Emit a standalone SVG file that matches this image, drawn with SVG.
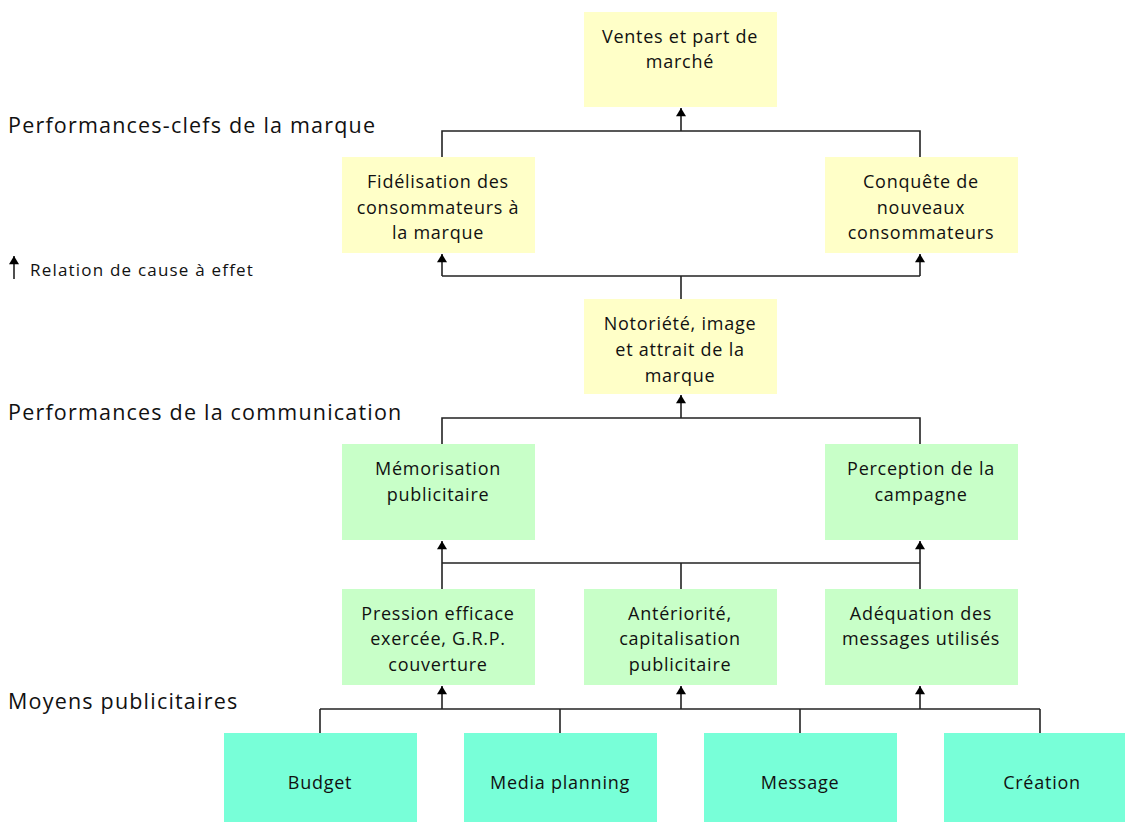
<svg xmlns="http://www.w3.org/2000/svg" width="1125" height="822" viewBox="0 0 1125 822">
<defs>
<marker id="ah" viewBox="0 0 10 12" refX="10" refY="6" markerWidth="12" markerHeight="10" markerUnits="userSpaceOnUse" orient="auto">
<path d="M0,0 L10,6 L0,12 z" fill="#000"/>
</marker>
</defs>
<style>
text{font-family:"Open Sans","Noto Sans",sans-serif;fill:#111}
.t{font-size:18px;letter-spacing:0.75px;text-anchor:middle}
.h{font-size:21.5px;letter-spacing:1.2px}
.y{fill:#FFFFC8}
.g{fill:#C8FFC8}
.c{fill:#78FFD8}
.ln{stroke:#222;stroke-width:1.6;fill:none}
.ar{stroke:#222;stroke-width:1.6;fill:none;marker-end:url(#ah)}
</style>
<rect width="1125" height="822" fill="#fff"/>
<g id="headers">
<text class="h" x="8" y="133">Performances-clefs de la marque</text>
<text class="h" x="8" y="420">Performances de la communication</text>
<text class="h" x="8" y="709">Moyens publicitaires</text>
</g>
<g id="legend">
<line class="ar" x1="14" y1="279" x2="14" y2="256"/>
<text x="30" y="276" style="font-size:17px;letter-spacing:1.2px">Relation de cause à effet</text>
</g>
<g id="connectors">
<polyline class="ln" points="442,157 442,131 920,131 920,157"/>
<line class="ar" x1="681" y1="131" x2="681" y2="108"/>
<polyline class="ln" points="681,299 681,276"/>
<line class="ln" x1="442" y1="276" x2="920" y2="276"/>
<line class="ar" x1="442" y1="276" x2="442" y2="254"/>
<line class="ar" x1="920" y1="276" x2="920" y2="254"/>
<polyline class="ln" points="442,444 442,418 920,418 920,444"/>
<line class="ar" x1="681" y1="418" x2="681" y2="395"/>
<line class="ln" x1="442" y1="563" x2="920" y2="563"/>
<line class="ln" x1="681" y1="589" x2="681" y2="563"/>
<line class="ar" x1="442" y1="589" x2="442" y2="541"/>
<line class="ar" x1="920" y1="589" x2="920" y2="541"/>
<line class="ln" x1="320" y1="709" x2="1040" y2="709"/>
<line class="ln" x1="320" y1="733" x2="320" y2="709"/>
<line class="ln" x1="560" y1="733" x2="560" y2="709"/>
<line class="ln" x1="800" y1="733" x2="800" y2="709"/>
<line class="ln" x1="1040" y1="733" x2="1040" y2="709"/>
<line class="ar" x1="442" y1="709" x2="442" y2="686"/>
<line class="ar" x1="681" y1="709" x2="681" y2="686"/>
<line class="ar" x1="920" y1="709" x2="920" y2="686"/>
</g>
<g id="ventes">
<rect class="y" x="584" y="12" width="193" height="95"/>
<text class="t" x="680" y="43">Ventes et part de</text>
<text class="t" x="680" y="68">marché</text>
</g>
<g id="fidelisation">
<rect class="y" x="342" y="157" width="193" height="96"/>
<text class="t" x="438" y="188">Fidélisation des</text>
<text class="t" x="438" y="214">consommateurs à</text>
<text class="t" x="438" y="239">la marque</text>
</g>
<g id="conquete">
<rect class="y" x="825" y="157" width="193" height="96"/>
<text class="t" x="921" y="188">Conquête de</text>
<text class="t" x="921" y="214">nouveaux</text>
<text class="t" x="921" y="239">consommateurs</text>
</g>
<g id="notoriete">
<rect class="y" x="584" y="299" width="193" height="95"/>
<text class="t" x="680" y="330">Notoriété, image</text>
<text class="t" x="680" y="356">et attrait de la</text>
<text class="t" x="680" y="382">marque</text>
</g>
<g id="memorisation">
<rect class="g" x="342" y="444" width="193" height="96"/>
<text class="t" x="438" y="475">Mémorisation</text>
<text class="t" x="438" y="501">publicitaire</text>
</g>
<g id="perception">
<rect class="g" x="825" y="444" width="193" height="96"/>
<text class="t" x="921" y="475">Perception de la</text>
<text class="t" x="921" y="501">campagne</text>
</g>
<g id="pression">
<rect class="g" x="342" y="589" width="193" height="96"/>
<text class="t" x="438" y="620">Pression efficace</text>
<text class="t" x="438" y="645">exercée, G.R.P.</text>
<text class="t" x="438" y="671">couverture</text>
</g>
<g id="anteriorite">
<rect class="g" x="584" y="589" width="193" height="96"/>
<text class="t" x="680" y="620">Antériorité,</text>
<text class="t" x="680" y="645">capitalisation</text>
<text class="t" x="680" y="671">publicitaire</text>
</g>
<g id="adequation">
<rect class="g" x="825" y="589" width="193" height="96"/>
<text class="t" x="921" y="620">Adéquation des</text>
<text class="t" x="921" y="645">messages utilisés</text>
</g>
<g id="budget">
<rect class="c" x="224" y="733" width="193" height="89"/>
<text class="t" x="320" y="789">Budget</text>
</g>
<g id="media">
<rect class="c" x="464" y="733" width="193" height="89"/>
<text class="t" x="560" y="789">Media planning</text>
</g>
<g id="message">
<rect class="c" x="704" y="733" width="193" height="89"/>
<text class="t" x="800" y="789">Message</text>
</g>
<g id="creation">
<rect class="c" x="944" y="733" width="193" height="89"/>
<text class="t" x="1042" y="789">Création</text>
</g>
</svg>
